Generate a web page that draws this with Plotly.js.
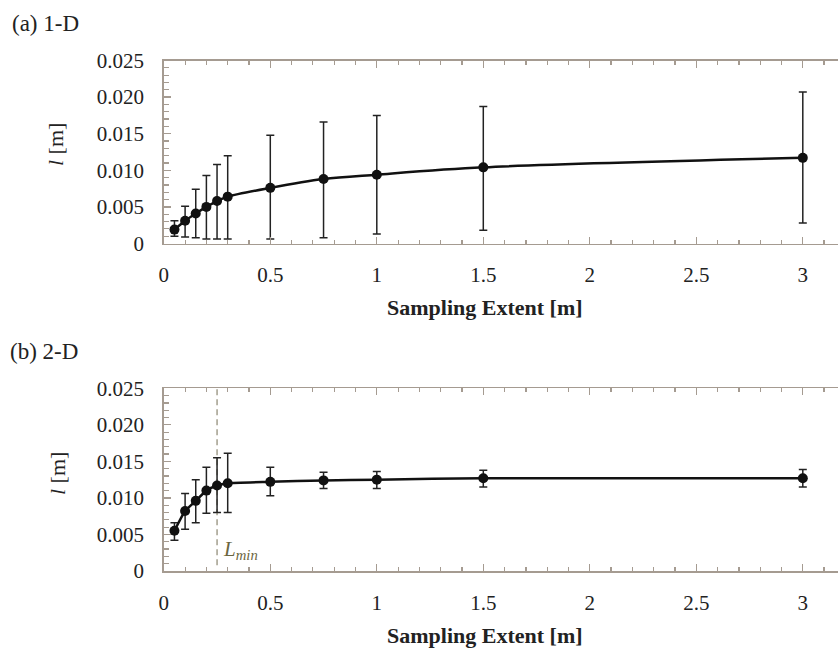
<!DOCTYPE html>
<html>
<head>
<meta charset="utf-8">
<script src="https://cdn.plot.ly/plotly-3.0.1.min.js"></script>
<style>
html,body{margin:0;padding:0;background:#fff;}
#chart{width:838px;height:652px;}
</style>
</head>
<body>
<div id="chart"></div>
<script>
// ---- data ----
const samplingExtent = [0.05, 0.1, 0.15, 0.2, 0.25, 0.3, 0.5, 0.75, 1, 1.5, 3];

const mean1D  = [0.0019, 0.0031, 0.0041, 0.0050, 0.0058, 0.0064, 0.0076, 0.0088, 0.0094, 0.0104, 0.0117];
const upper1D = [0.0031, 0.0051, 0.0074, 0.0093, 0.0108, 0.0120, 0.0148, 0.0166, 0.0175, 0.0187, 0.0207];
const lower1D = [0.0010, 0.0009, 0.0008, 0.0006, 0.0006, 0.0006, 0.0006, 0.0008, 0.0013, 0.0018, 0.0028];

const mean2D  = [0.0055, 0.0082, 0.0096, 0.0110, 0.0117, 0.0120, 0.0122, 0.0124, 0.0125, 0.0127, 0.0127];
const upper2D = [0.0066, 0.0106, 0.0125, 0.0142, 0.0155, 0.0161, 0.0142, 0.0135, 0.0136, 0.0138, 0.0139];
const lower2D = [0.0042, 0.0057, 0.0066, 0.0079, 0.0080, 0.0080, 0.0103, 0.0113, 0.0113, 0.0115, 0.0115];

const yTickVals = [0, 0.005, 0.010, 0.015, 0.020, 0.025];
const yTickText = ['0', '0.005', '0.010', '0.015', '0.020', '0.025'];
const xTickVals = [0, 0.5, 1, 1.5, 2, 2.5, 3];
const xTickText = ['0', '0.5', '1', '1.5', '2', '2.5', '3'];

const Lmin = 0.25;
const panelTitles = ['(a) 1-D', '(b) 2-D'];
const xTitle = 'Sampling Extent [m]';
const yTitle = '<i>l</i> [m]';

// ---- layout helpers (pixels -> paper) ----
const W = 838, H = 652;
const px = v => v / W;
const py = v => 1 - v / H;

const frameColor = '#a59b91';
const serif = 'Liberation Serif, Times New Roman, serif';
const XMAX = (W - 163.8) / 213;

function diff(a, b) { return a.map((v, i) => v - b[i]); }

function trace(mean, upper, lower, xa, ya, smooth) {
  return {
    x: samplingExtent, y: mean, xaxis: xa, yaxis: ya,
    type: 'scatter', mode: 'lines+markers',
    line: {color: '#111', width: 2.5, shape: 'spline', smoothing: smooth},
    marker: {color: '#111', size: 10},
    error_y: {type: 'data', symmetric: false,
      array: diff(upper, mean), arrayminus: diff(mean, lower),
      color: '#222', thickness: 1.5, width: 4},
    showlegend: false, hoverinfo: 'skip'
  };
}

function xAxis(anchor) {
  return {
    domain: [px(163.8), 1], anchor: anchor, range: [0, XMAX],
    tickmode: 'array', tickvals: xTickVals, ticktext: xTickText,
    ticks: 'inside', ticklen: 7, tickwidth: 1.3, tickcolor: frameColor,
    minor: {dtick: 0.1, tick0: 0, ticks: 'inside', ticklen: 4, tickwidth: 1.2, tickcolor: frameColor},
    showline: true, linecolor: frameColor, linewidth: 1.6, mirror: 'allticks',
    showgrid: false, zeroline: false,
    tickfont: {family: serif, size: 21, color: '#222'},
    ticklabelstandoff: 12
  };
}
function yAxis(top, bottom, anchor) {
  return {
    domain: [py(bottom), py(top)], anchor: anchor, range: [0, 0.025],
    tickmode: 'array', tickvals: yTickVals, ticktext: yTickText,
    ticks: 'inside', ticklen: 7, tickwidth: 1.3, tickcolor: frameColor,
    minor: {dtick: 0.001, tick0: 0, ticks: 'inside', ticklen: 5, tickwidth: 1.2, tickcolor: frameColor},
    showline: true, linecolor: frameColor, linewidth: 1.6, mirror: false,
    showgrid: false, zeroline: false,
    tickfont: {family: serif, size: 21, color: '#222'},
    ticklabelstandoff: 14
  };
}

const A = {top: 60.5, bottom: 243.5};
const B = {top: 388.3, bottom: 571};

const titleFont = {family: serif, size: 23, color: '#222'};
const axisTitleFont = {family: serif, size: 22, color: '#222'};
const annotations = [
  {text: panelTitles[0], x: px(10), y: py(23), xref: 'paper', yref: 'paper', xanchor: 'left', yanchor: 'middle', showarrow: false, font: titleFont},
  {text: panelTitles[1], x: px(8), y: py(351), xref: 'paper', yref: 'paper', xanchor: 'left', yanchor: 'middle', showarrow: false, font: titleFont},
  {text: '<b>' + xTitle + '</b>', x: px(485), y: py(A.bottom + 64), xref: 'paper', yref: 'paper', xanchor: 'center', yanchor: 'middle', showarrow: false, font: axisTitleFont},
  {text: '<b>' + xTitle + '</b>', x: px(485), y: py(B.bottom + 64), xref: 'paper', yref: 'paper', xanchor: 'center', yanchor: 'middle', showarrow: false, font: axisTitleFont},
  {text: yTitle, x: px(56), y: py(145), xref: 'paper', yref: 'paper', xanchor: 'center', yanchor: 'middle', textangle: -90, showarrow: false, font: axisTitleFont},
  {text: yTitle, x: px(57), y: py(474), xref: 'paper', yref: 'paper', xanchor: 'center', yanchor: 'middle', textangle: -90, showarrow: false, font: axisTitleFont},
  {text: '<i>L<sub>min</sub></i>', x: Lmin, y: 0.0029, xref: 'x2', yref: 'y2', xanchor: 'left', yanchor: 'middle', xshift: 4, showarrow: false, font: {family: serif, size: 21, color: '#6b6640'}}
];

const layout = {
  width: W, height: H,
  margin: {l: 0, r: 0, t: 0, b: 0},
  paper_bgcolor: '#fff', plot_bgcolor: '#fff',
  xaxis: xAxis('y'),
  yaxis: yAxis(A.top, A.bottom, 'x'),
  xaxis2: xAxis('y2'),
  yaxis2: yAxis(B.top, B.bottom, 'x2'),
  shapes: [
    {type: 'line', xref: 'x2', yref: 'y2', x0: Lmin, x1: Lmin, y0: 0.0008, y1: 0.025,
     line: {color: '#8a8570', width: 1.2, dash: '6px,4px'}, layer: 'below'}
  ],
  annotations: annotations
};

const data = [
  trace(mean1D, upper1D, lower1D, 'x', 'y', 0.9),
  trace(mean2D, upper2D, lower2D, 'x2', 'y2', 0.5)
];

Plotly.newPlot('chart', data, layout, {staticPlot: true, displayModeBar: false});
</script>
</body>
</html>
